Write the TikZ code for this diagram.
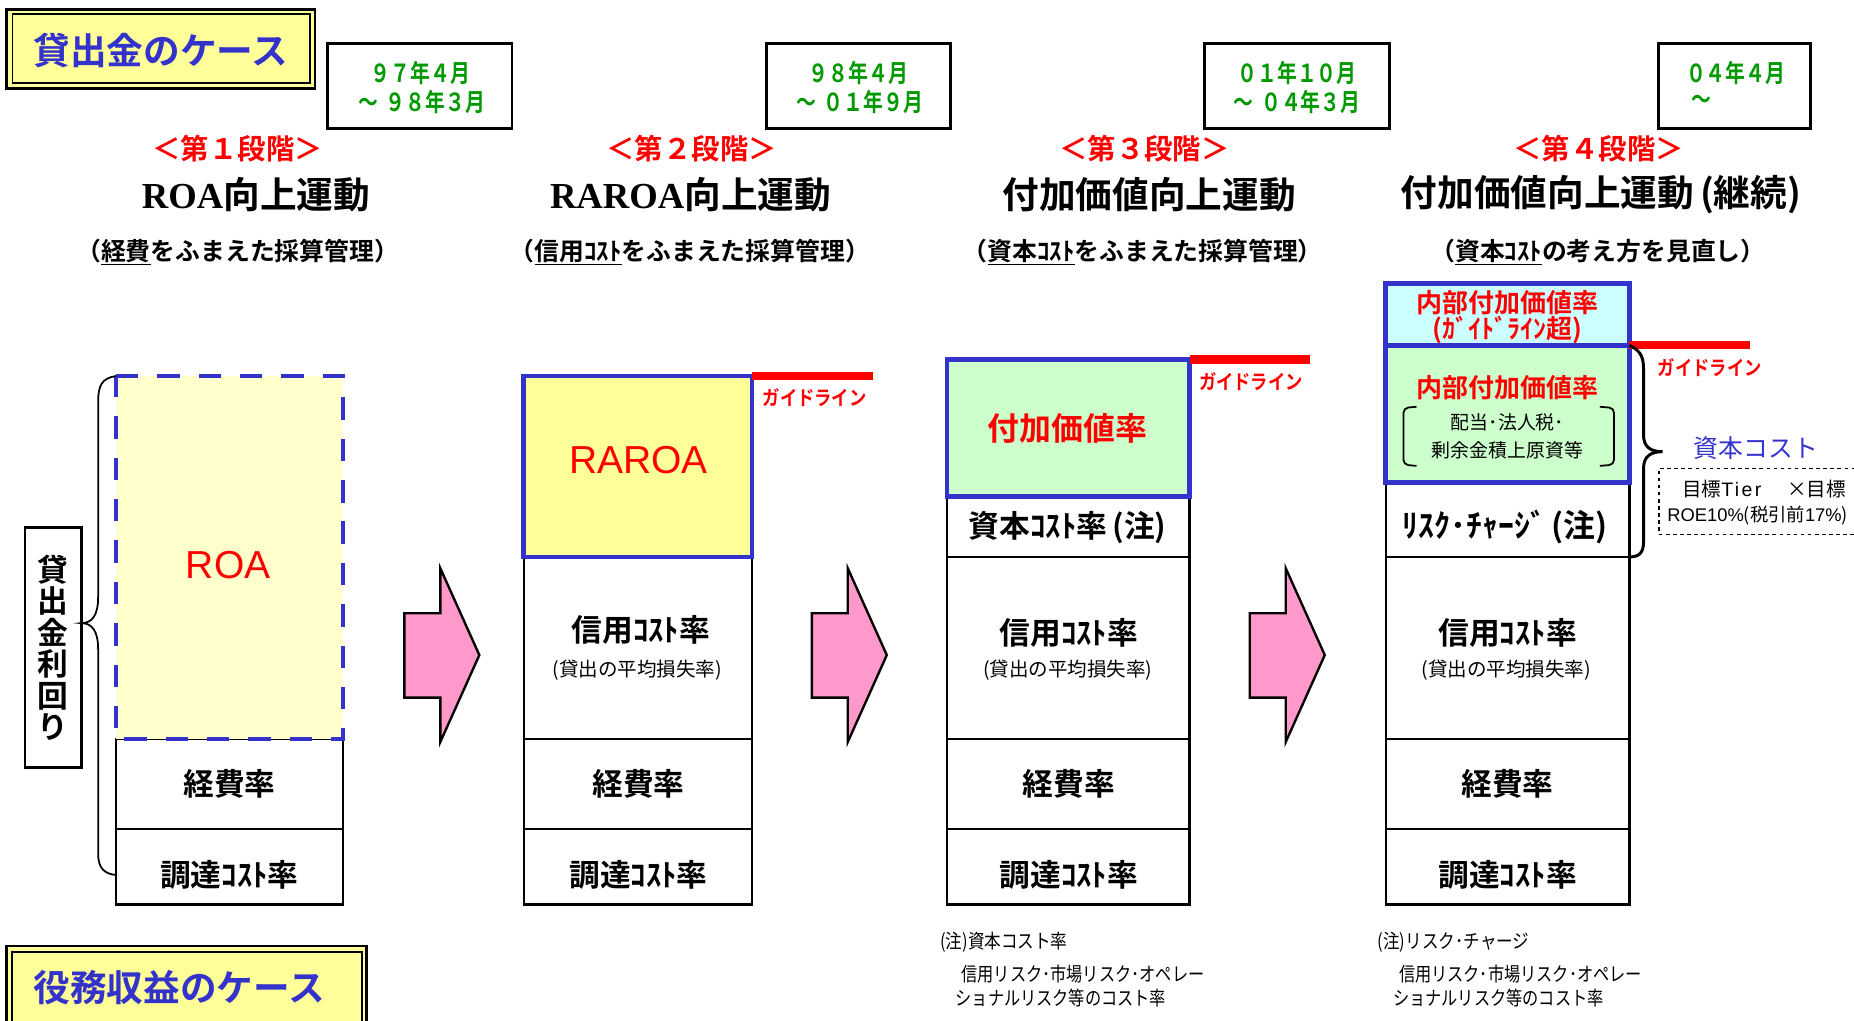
\documentclass[tikz,border=0pt]{standalone}
\usepackage{fontspec}
\setmainfont{Noto Sans CJK JP}
\newfontfamily\jp{Noto Sans CJK JP}
\newfontfamily\jpb{Noto Sans CJK JP Bold}
\newfontfamily\arialf{Liberation Sans}
\newfontfamily\serif{Liberation Serif}
\usetikzlibrary{calc}
\definecolor{dgreen}{RGB}{0,153,0}
\definecolor{myblue}{RGB}{51,51,204}
\definecolor{lyellow}{RGB}{255,255,153}
\definecolor{pyellow}{RGB}{255,255,204}
\definecolor{lgreen}{RGB}{204,255,204}
\definecolor{lcyan}{RGB}{204,255,255}
\definecolor{pinkf}{RGB}{255,153,204}
\begin{document}
\begin{tikzpicture}[x=1pt,y=-1pt,
  cell/.style={draw=black, line width=2pt, anchor=north west, inner sep=0pt, outer sep=0pt},
  bluebox/.style={draw=myblue, line width=4pt, anchor=north west, inner sep=0pt, outer sep=0pt},
  datebox/.style={draw=black, line width=2.5pt, anchor=north west, inner sep=0pt, outer sep=0pt},
  casebox/.style={draw=black, line width=2.3pt, fill=lyellow, anchor=north west, inner sep=0pt, outer sep=0pt},
  caseinner/.style={draw=black, line width=1.4pt, anchor=north west, inner sep=0pt, outer sep=0pt},
  casetxt/.style={text=myblue, font=\jpb\fontsize{31}{33}\selectfont, inner sep=0pt},
  lbl/.style={font=\jpb\fontsize{26}{28}\selectfont, inner sep=0pt},
  sub/.style={font=\jp\fontsize{16.5}{18}\selectfont, inner sep=0pt},
  datetxt/.style={text=dgreen, font=\jpb\fontsize{21}{25}\selectfont, inner sep=0pt},
  stage/.style={text=red, font=\jpb\fontsize{24}{26}\selectfont, inner sep=0pt},
  ttl/.style={font=\jpb\fontsize{31}{33}\selectfont, inner sep=0pt},
  subttl/.style={font=\jpb\fontsize{21}{23}\selectfont, inner sep=0pt},
  guide/.style={draw=red, line width=7pt},
  guidetxt/.style={text=red, font=\jpb\fontsize{17}{18}\selectfont, inner sep=0pt},
  arrowshape/.style={draw=black, line width=2pt, fill=pinkf, line join=miter},
  note/.style={font=\jp\fontsize{16.5}{18}\selectfont, inner sep=0pt, anchor=west},
  bigred/.style={text=red, font=\arialf\fontsize{33}{35}\selectfont, inner sep=0pt},
  redlbl/.style={text=red, font=\jpb\fontsize{22}{24}\selectfont, inner sep=0pt},
  small/.style={font=\jp\fontsize{16}{18}\selectfont, inner sep=0pt},
]
\useasboundingbox (0,0) rectangle (1568,863);

% ---------- case boxes ----------
\node[casebox, minimum width=260.8, minimum height=66.8] (case1) at (5.6,7.9) {};
\node[caseinner, minimum width=251.3, minimum height=58.2] (case1i) at (10.7,11.8) {};
\node[casetxt] (case1t) at (136,43) {貸出金のケース};
\node[casebox, minimum width=304.4, minimum height=80] (case2) at (5.6,800) {};
\node[caseinner, minimum width=296.1, minimum height=70] (case2i) at (9.9,805) {};
\node[casetxt] (case2t) at (151.5,835) {役務収益のケース};

% ---------- date boxes ----------
\node[datebox, minimum width=156, minimum height=72] (d1) at (277,37) {};
\node[datebox, minimum width=156, minimum height=72] (d2) at (648,37) {};
\node[datebox, minimum width=156, minimum height=72] (d3) at (1019,37) {};
\node[datebox, minimum width=128, minimum height=72] (d4) at (1403,37) {};
\node[datetxt] (d1a) at (355.5,61.5) {\scalebox{0.8}[1]{９７年４月}};
\node[datetxt] (d1b) at (356.5,86.5) {\scalebox{0.8}[1]{～\hspace{8pt}９８年３月}};
\node[datetxt] (d2a) at (726,61.5) {\scalebox{0.8}[1]{９８年４月}};
\node[datetxt] (d2b) at (727,86.5) {\scalebox{0.8}[1]{～\hspace{8pt}０１年９月}};
\node[datetxt] (d3a) at (1097,61.5) {\scalebox{0.8}[1]{０１年１０月}};
\node[datetxt] (d3b) at (1097,86.5) {\scalebox{0.8}[1]{～\hspace{8pt}０４年３月}};
\node[datetxt] (d4a) at (1468,61.5) {\scalebox{0.8}[1]{０４年４月}};
\node[datetxt] (d4b) at (1439,86.5) {\scalebox{0.8}[1]{～}};

% ---------- stage labels / titles ----------
\node[stage] (s1) at (201,126) {＜第１段階＞};
\node[stage] (s2) at (585,126) {＜第２段階＞};
\node[stage] (s3) at (968,126) {＜第３段階＞};
\node[stage] (s4) at (1352,126) {＜第４段階＞};
\node[ttl] (t1) at (216.5,165) {{\serif\bfseries ROA}向上運動};
\node[ttl] (t2) at (584,165) {{\serif\bfseries RAROA}向上運動};
\node[ttl] (t3) at (972,165) {付加価値向上運動};
\node[ttl] (t4) at (1354,165) {付加価値向上運動\,(継続)};
\node[subttl] (u1) at (201,213) {（\underline{経費}をふまえた採算管理）};
\node[subttl] (u2) at (583.5,213) {（\underline{信用ｺｽﾄ}をふまえた採算管理）};
\node[subttl] (u3) at (966.5,213) {（\underline{資本ｺｽﾄ}をふまえた採算管理）};
\node[subttl] (u4) at (1351.5,213) {（\underline{資本ｺｽﾄ}の考え方を見直し）};

% ---------- column 1 ----------
\node[cell, minimum width=192, minimum height=76] (a2) at (98,625) {};
\node[cell, minimum width=192, minimum height=64] (a3) at (98,701) {};
\node[anchor=north west, fill=pyellow, minimum width=192, minimum height=307, inner sep=0pt, outer sep=0pt] (a1) at (98,318) {};
\draw[myblue, line width=4pt, dash pattern=on 19pt off 16pt] (a1.north west) -- (a1.north east) -- (a1.south east) -- (a1.south west) -- cycle;
\node[bigred] (a1t) at (193,478) {ROA};
\node[lbl] (a2t) at (194,663) {経費率};
\node[lbl] (a3t) at (194,740) {調達ｺｽﾄ率};
\node[draw=black, line width=2pt, anchor=north west, minimum width=48, minimum height=203, inner sep=0pt, outer sep=0pt] (vb) at (21,446) {};
\node[font=\jpb\fontsize{26}{26.6}\selectfont, align=center, inner sep=0pt] (vbt) at (45,548) {貸\\出\\金\\利\\回\\り};
\draw[line width=1.5pt] (a1.north west) .. controls (86,320) and (83,326) .. (83,340) -- (83,505)
  .. controls (83,520) and (78,527) .. (vb.east |- 0,527)
  .. controls (78,527) and (83,534) .. (83,549) -- (83,722)
  .. controls (83,734) and (88,739) .. (98,740);

% ---------- arrows ----------
\foreach \dx/\nm in {342/ar1,686.6/ar2,1057/ar3}{
  \draw[arrowshape, shift={(\dx,0)}] (0,518.6) -- (30.4,518.6) -- (30.4,480.6) -- (63.4,554) -- (30.4,627.5) -- (30.4,590) -- (0,590) -- cycle;
}

% ---------- column 2 ----------
\node[cell, minimum width=193, minimum height=154] (b2) at (443,471) {};
\node[cell, minimum width=193, minimum height=76] (b3) at (443,625) {};
\node[cell, minimum width=193, minimum height=64] (b4) at (443,701) {};
\node[bluebox, fill=lyellow, minimum width=193, minimum height=153] (b1) at (443,318) {};
\node[bigred] (b1t) at (540,389) {RAROA};
\node[lbl] (b2t) at (542,533) {信用ｺｽﾄ率};
\node[sub] (b2s) at (539,567) {(貸出の平均損失率)};
\node[lbl] (b3t) at (540,663) {経費率};
\node[lbl] (b4t) at (540,740) {調達ｺｽﾄ率};
\draw[guide] (b1.north east) -- ++(102,0) coordinate (g2);
\node[guidetxt] (g2t) at (689,336) {\scalebox{0.86}[1]{ガイドライン}};

% ---------- column 3 ----------
\node[cell, minimum width=205, minimum height=51] (c2) at (801,420) {};
\node[cell, minimum width=205, minimum height=154] (c3) at (801,471) {};
\node[cell, minimum width=205, minimum height=76] (c4) at (801,625) {};
\node[cell, minimum width=205, minimum height=64] (c5) at (801,701) {};
\node[bluebox, fill=lgreen, minimum width=205, minimum height=116] (c1) at (801,304) {};
\node[font=\jpb\fontsize{27}{29}\selectfont, text=red, inner sep=0pt] (c1t) at (903,362) {付加価値率};
\node[lbl] (c2t) at (903,446) {資本ｺｽﾄ率\,(注)};
\node[lbl] (c3t) at (904,535) {信用ｺｽﾄ率};
\node[sub] (c3s) at (903,567) {(貸出の平均損失率)};
\node[lbl] (c4t) at (904,663) {経費率};
\node[lbl] (c5t) at (904,740) {調達ｺｽﾄ率};
\draw[guide] (c1.north east) -- ++(102,0) coordinate (g3);
\node[guidetxt] (g3t) at (1058,323) {\scalebox{0.86}[1]{ガイドライン}};

% ---------- column 4 ----------
\node[cell, minimum width=206, minimum height=63] (e3) at (1172,408) {};
\node[cell, minimum width=206, minimum height=154] (e4) at (1172,471) {};
\node[cell, minimum width=206, minimum height=76] (e5) at (1172,625) {};
\node[cell, minimum width=206, minimum height=64] (e6) at (1172,701) {};
\node[bluebox, fill=lcyan, minimum width=206, minimum height=52] (e1) at (1172,240) {};
\node[bluebox, fill=lgreen, minimum width=206, minimum height=116] (e2) at (1172,292) {};
\node[redlbl] (e1t) at (1275,256) {内部付加価値率};
\node[redlbl] (e1s) at (1275,279) {(ｶﾞｲﾄﾞﾗｲﾝ超)};
\node[redlbl] (e2t) at (1275,328) {内部付加価値率};
\node[small] (e2a) at (1275,357) {配当･法人税･};
\node[small] (e2b) at (1275,381) {剰余金積上原資等};
\draw[line width=1.5pt, rounded corners=4pt] (1198,344) -- (1187,345) -- (1187,393) -- (1198,394);
\draw[line width=1.5pt, rounded corners=4pt] (1353,344) -- (1365,345) -- (1365,393) -- (1353,394);
\node[font=\jpb\fontsize{27}{29}\selectfont, inner sep=0pt] (e3t) at (1273,446) {ﾘｽｸ･ﾁｬｰｼﾞ\,(注)};
\node[lbl] (e4t) at (1275,535) {信用ｺｽﾄ率};
\node[sub] (e4s) at (1274,567) {(貸出の平均損失率)};
\node[lbl] (e5t) at (1275,663) {経費率};
\node[lbl] (e6t) at (1275,740) {調達ｺｽﾄ率};
\draw[guide] (e2.north east) -- ++(102,0) coordinate (g4);
\node[guidetxt] (g4t) at (1446,311) {\scalebox{0.86}[1]{ガイドライン}};
% right brace
\draw[line width=2.5pt] (e2.north east) .. controls (1386,296) and (1390,300) .. (1390,312) -- (1390,368)
  .. controls (1390,378) and (1396,382) .. (1406,382) coordinate (btip)
  .. controls (1396,382) and (1390,386) .. (1390,396) -- (1390,458)
  .. controls (1390,468) and (1386,471) .. (e3.south east);
\node[font=\jp\fontsize{21}{23}\selectfont, text=myblue, inner sep=0pt] (capc) at (1485,379) {資本コスト};
\node[draw=black, dashed, line width=1pt, anchor=north west, minimum width=175, minimum height=56, inner sep=0pt, outer sep=0pt] (tier) at (1403,396) {};
\node[font=\jp\fontsize{16.5}{18}\selectfont, inner sep=0pt] (tiera) at (1492,414) {目標{\arialf\addfontfeature{LetterSpace=12}Tier}\hspace{22pt}×目標};
\node[font=\jp\fontsize{15.5}{18}\selectfont, inner sep=0pt, anchor=west] (tierb) at (1410,436) {{\arialf ROE10\%}(税引前{\arialf 17\%})};

% ---------- footnotes ----------
\node[note] (n1a) at (795,797) {\scalebox{0.85}[1]{(注)資本コスト率}};
\node[note] (n1b) at (813,824) {\scalebox{0.83}[1]{信用リスク･市場リスク･オペレー}};
\node[note] (n1c) at (808,844) {\scalebox{0.83}[1]{ショナルリスク等のコスト率}};
\node[note] (n2a) at (1165,797) {\scalebox{0.85}[1]{(注)リスク･チャージ}};
\node[note] (n2b) at (1183,824) {\scalebox{0.83}[1]{信用リスク･市場リスク･オペレー}};
\node[note] (n2c) at (1178,844) {\scalebox{0.83}[1]{ショナルリスク等のコスト率}};
\end{tikzpicture}
\end{document}
